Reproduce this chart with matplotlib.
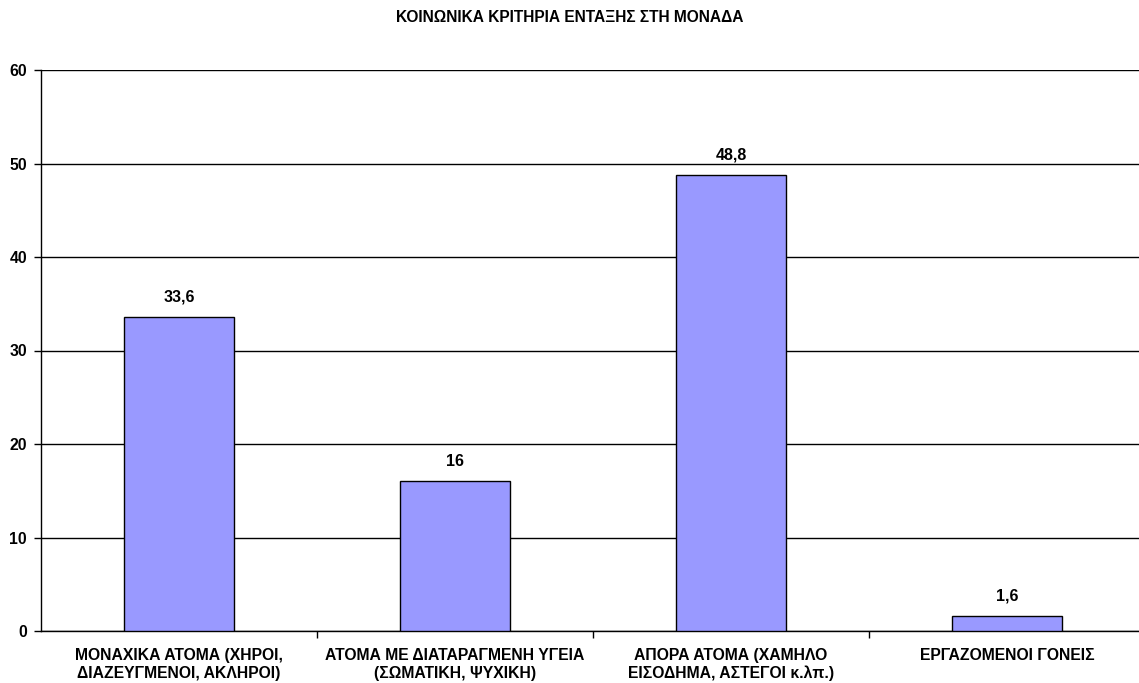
import matplotlib.pyplot as plt
import numpy as np

plt.rcParams['font.family'] = ['Liberation Sans', 'DejaVu Sans']

# data
categories = ['ΜΟΝΑΧΙΚΑ ΑΤΟΜΑ (ΧΗΡΟΙ,\nΔΙΑΖΕΥΓΜΕΝΟΙ, ΑΚΛΗΡΟΙ)',
              'ΑΤΟΜΑ ΜΕ ΔΙΑΤΑΡΑΓΜΕΝΗ ΥΓΕΙΑ\n(ΣΩΜΑΤΙΚΗ, ΨΥΧΙΚΗ)',
              'ΑΠΟΡΑ ΑΤΟΜΑ (ΧΑΜΗΛΟ\nΕΙΣΟΔΗΜΑ, ΑΣΤΕΓΟΙ κ.λπ.)',
              'ΕΡΓΑΖΟΜΕΝΟΙ ΓΟΝΕΙΣ']
values = [33.6, 16, 48.8, 1.6]
value_labels = ['33,6', '16', '48,8', '1,6']
title = 'ΚΟΙΝΩΝΙΚΑ ΚΡΙΤΗΡΙΑ ΕΝΤΑΞΗΣ ΣΤΗ ΜΟΝΑΔΑ'

fig = plt.figure(figsize=(11.39, 6.83), dpi=100)
# plot area runs a little past the right edge of the image
ax = fig.add_axes([41/1139, 1 - 631/683, (1145 - 41)/1139, (631 - 70)/683])

x = np.arange(len(categories))
bars = ax.bar(x, values, width=0.4, color='#9999FF', edgecolor='black', linewidth=1, zorder=3)

for b, lab in zip(bars, value_labels):
    ax.text(b.get_x() + b.get_width()/2, b.get_height() + 1.3, lab,
            ha='center', va='bottom', fontsize=11.5, fontweight='bold')

ax.set_xlim(-0.5, len(categories) - 0.5)
ax.set_ylim(0, 60)
ax.set_yticks(range(0, 61, 10))
ax.yaxis.grid(True, color='black', linewidth=1)
ax.set_axisbelow(True)

ax.set_xticks(x)
ax.set_xticklabels(categories, fontsize=11.3, fontweight='bold', linespacing=1.25)
ax.set_xticks(x[:-1] + 0.5, minor=True)
ax.tick_params(axis='x', which='major', length=0, pad=12)
ax.tick_params(axis='x', which='minor', length=5, direction='out', width=1)
ax.tick_params(axis='y', length=5, width=1, labelsize=11.3, pad=5)
for t in ax.get_yticklabels():
    t.set_fontweight('bold')

for s in ['top', 'right']:
    ax.spines[s].set_visible(False)
ax.spines['left'].set_linewidth(1)
ax.spines['bottom'].set_linewidth(1)

fig.text(0.5, 1 - 17/683, title, ha='center', va='center', fontsize=11.2, fontweight='bold')

fig.savefig('out.png', dpi=100)
